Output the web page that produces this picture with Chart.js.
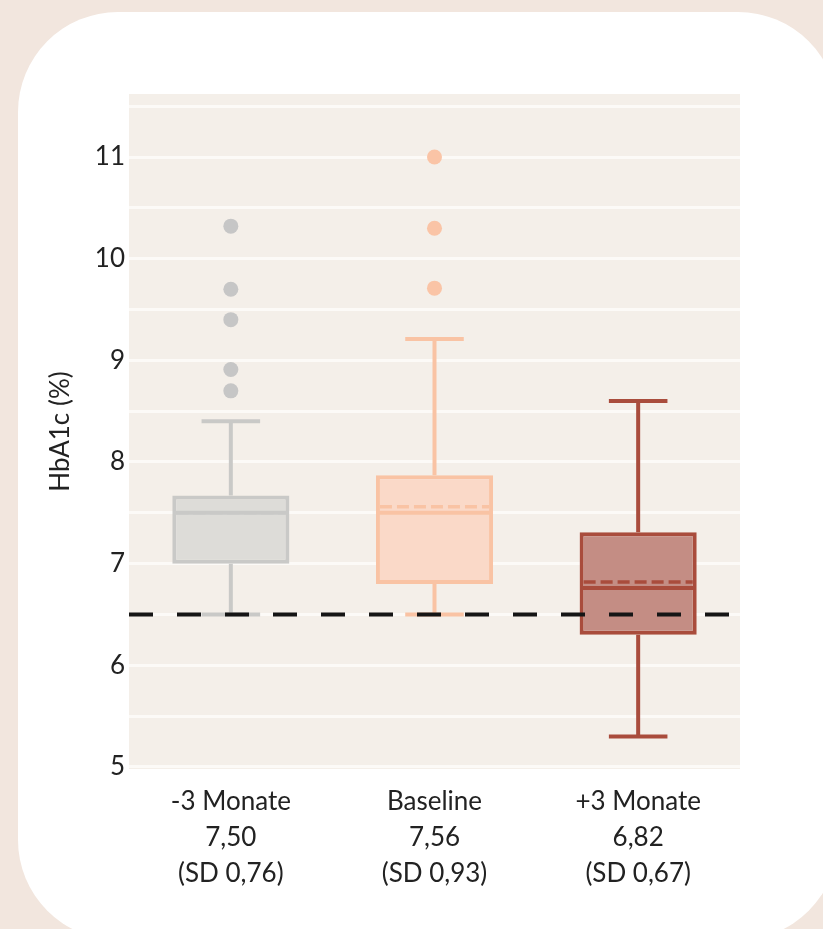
<!DOCTYPE html>
<html>
<head>
<meta charset="utf-8">
<script src="https://cdn.jsdelivr.net/npm/chart.js@4"></script>
<style>
  html, body { margin: 0; padding: 0; }
  body { width: 823px; height: 929px; background: #f2e6de; position: relative; overflow: hidden; }
  .card { position: absolute; left: 18px; top: 12px; width: 820px; height: 928px; background: #fff; border-radius: 100px; }
  .wrap { position: absolute; left: 0; top: 0; width: 823px; height: 929px; }
</style>
</head>
<body>
<div class="card"></div>
<div class="wrap"><canvas id="box"></canvas></div>
<script>
/* DATEN */
const categories = ["-3 Monate", "Baseline", "+3 Monate"];
const meanText = ["7,50", "7,56", "6,82"];
const sdText = ["0,76", "0,93", "0,67"];
const whiskerLow = [6.5, 6.5, 5.3];
const q1 = [7.0, 6.8, 6.3];
const median = [7.5, 7.5, 6.76];
const q3 = [7.67, 7.87, 7.31];
const whiskerHigh = [8.4, 9.21, 8.6];
const means = [7.50, 7.56, 6.82];
const outliers = [[10.32, 9.70, 9.40, 8.91, 8.70], [11.0, 10.30, 9.71], []];
const target = 6.5;
const yTicks = [5, 6, 7, 8, 9, 10, 11];

/* FARBEN */
const lineCol = ["#c9c9c7", "#f9c3a4", "#a94c3c"];
const fillCol = ["#dddcd8", "#fad9c8", "#c48d84"];
const dotCol = ["#c6c6c6", "#fac4a6", "#a94c3c"];

const labels = categories.map((c, i) => [c, meanText[i], "(SD " + sdText[i] + ")"]);

const maxOut = Math.max(...outliers.map(o => o.length));
const outlierSets = [];
for (let k = 0; k < maxOut; k++) {
  outlierSets.push({
    type: "line",
    data: outliers.map(o => o[k] ?? null),
    showLine: false,
    pointRadius: 7.5,
    pointBorderWidth: 0,
    pointBackgroundColor: dotCol,
    pointBorderColor: dotCol
  });
}

/* Hintergrund Plotfläche */
const plotBg = {
  id: "plotBg",
  beforeDraw(chart) {
    const { ctx, chartArea: a } = chart;
    ctx.save();
    ctx.fillStyle = "#f4efe9";
    ctx.fillRect(a.left, a.top, a.right - a.left, a.bottom - a.top);
    ctx.restore();
  }
};

/* Whisker, Median, Mittelwert, Zielwert */
const boxParts = {
  id: "boxParts",
  afterDatasetsDraw(chart) {
    const { ctx, chartArea: a } = chart;
    const y = chart.scales.y;
    const bars = chart.getDatasetMeta(0).data;
    ctx.save();
    bars.forEach((bar, i) => {
      const x = bar.x;
      const half = bar.width / 2;
      const cap = bar.width / 4;
      ctx.strokeStyle = lineCol[i];
      ctx.lineWidth = 4;
      ctx.setLineDash([]);
      ctx.beginPath();
      ctx.moveTo(x, y.getPixelForValue(q3[i]));
      ctx.lineTo(x, y.getPixelForValue(whiskerHigh[i]));
      ctx.moveTo(x, y.getPixelForValue(q1[i]));
      ctx.lineTo(x, y.getPixelForValue(whiskerLow[i]));
      ctx.moveTo(x - cap, y.getPixelForValue(whiskerHigh[i]));
      ctx.lineTo(x + cap, y.getPixelForValue(whiskerHigh[i]));
      ctx.moveTo(x - cap, y.getPixelForValue(whiskerLow[i]));
      ctx.lineTo(x + cap, y.getPixelForValue(whiskerLow[i]));
      ctx.moveTo(x - half + 2, y.getPixelForValue(median[i]));
      ctx.lineTo(x + half - 2, y.getPixelForValue(median[i]));
      ctx.stroke();
      ctx.setLineDash([12, 5]);
      ctx.lineWidth = 3.5;
      ctx.beginPath();
      ctx.moveTo(x - half + 4, y.getPixelForValue(means[i]));
      ctx.lineTo(x + half - 4, y.getPixelForValue(means[i]));
      ctx.stroke();
    });
    const ty = y.getPixelForValue(target);
    ctx.strokeStyle = "#151515";
    ctx.lineWidth = 4;
    ctx.setLineDash([24, 24]);
    ctx.beginPath();
    ctx.moveTo(a.left, ty);
    ctx.lineTo(a.right, ty);
    ctx.stroke();
    ctx.restore();
  }
};

new Chart(document.getElementById("box"), {
  data: {
    labels: labels,
    datasets: [
      {
        type: "bar",
        data: categories.map((_, i) => [q1[i], q3[i]]),
        backgroundColor: fillCol,
        borderColor: lineCol,
        borderWidth: 4,
        borderSkipped: false,
        categoryPercentage: 1,
        barPercentage: 0.575
      },
      ...outlierSets
    ]
  },
  options: {
    responsive: true,
    maintainAspectRatio: false,
    animation: false,
    layout: { padding: { left: 0, right: 83, top: 94, bottom: 0 } },
    plugins: { legend: { display: false }, tooltip: { enabled: false } },
    scales: {
      x: {
        offset: true,
        grid: { display: false, drawTicks: false },
        border: { display: false },
        ticks: {
          color: "#222",
          padding: 14,
          maxRotation: 0,
          font: { family: "Lato", size: 26, lineHeight: 1.4 }
        },
        afterFit(s) { s.height = 160; }
      },
      y: {
        min: 4.98,
        max: 11.62,
        grid: { color: "#fcfaf7", lineWidth: 3, drawTicks: false },
        border: { display: false },
        ticks: {
          stepSize: 0.5,
          includeBounds: false,
          padding: 4,
          color: "#222",
          font: { family: "Lato", size: 26 },
          callback: v => yTicks.includes(v) ? String(v) : ""
        },
        title: {
          display: true,
          text: "HbA1c (%)",
          color: "#222",
          font: { family: "Lato", size: 26 },
          padding: { top: 45, bottom: 0 }
        },
        afterFit(s) { s.width = 129; }
      }
    }
  },
  plugins: [plotBg, boxParts]
});
</script>
</body>
</html>
